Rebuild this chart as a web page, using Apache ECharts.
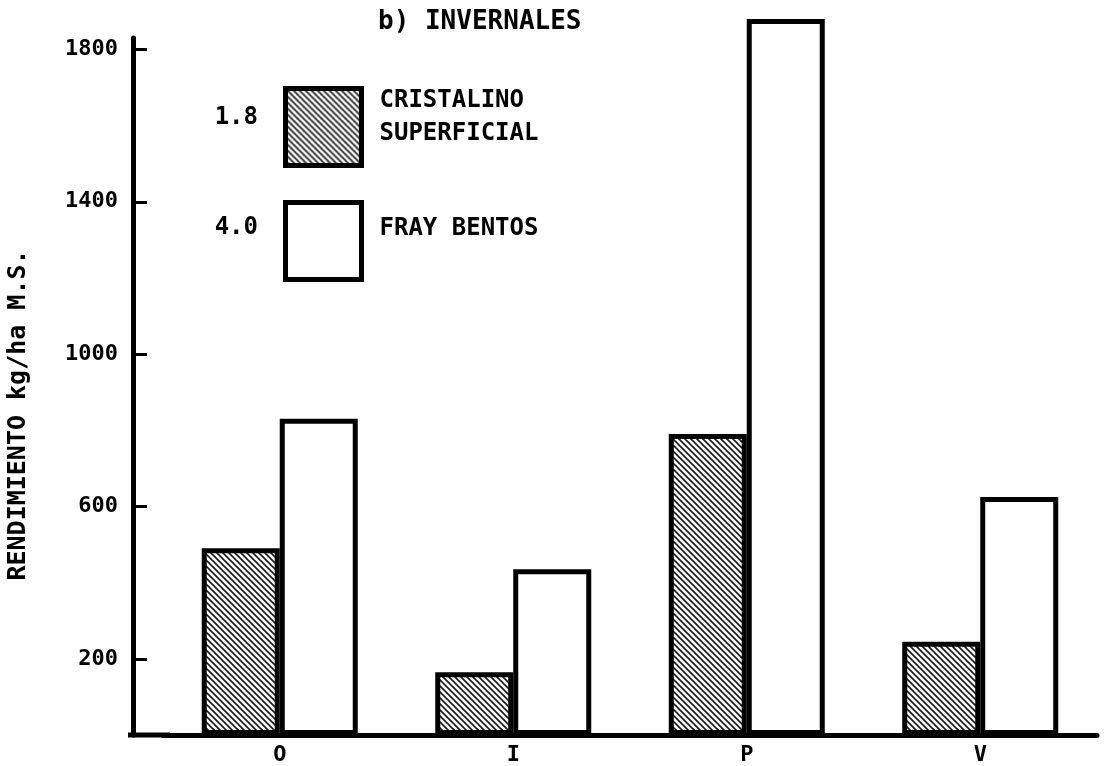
<!DOCTYPE html>
<html>
<head>
	<meta charset="utf-8">
	<title>b) INVERNALES</title>
	<style>
		html, body{margin:0; padding:0; background:#fff;}
		#chart{width:1104px; height:766px;}
	</style>
</head>
<body>
<div id="chart"></div>
<script src="https://cdn.jsdelivr.net/npm/echarts@6/dist/echarts.min.js"></script>
<script>
	// datos
	var categorias = ['O', 'I', 'P', 'V'];
	var cristalino = [490, 165, 790, 245];
	var frayBentos = [830, 435, 1880, 625];
	var ticksY = [200, 600, 1000, 1400, 1800];

	var fuente = '"DejaVu Sans Mono", monospace';

	// trama rayada para cristalino superficial
	function trama(){
		var c = document.createElement('canvas');
		c.width = 6; c.height = 6;
		var g = c.getContext('2d');
		g.fillStyle = '#fff';
		g.fillRect(0, 0, 6, 6);
		g.strokeStyle = '#1a1a1a';
		g.lineWidth = 1.6;
		g.beginPath();
		g.moveTo(-1, -1); g.lineTo(7, 7);
		g.moveTo(-4, 2); g.lineTo(4, 10);
		g.moveTo(2, -4); g.lineTo(10, 4);
		g.stroke();
		return c;
	}

	// texto de leyenda algo por encima del centro del cuadro
	function textoLeyenda(name){
		var lineas = name.split('\n').map(function(s){ return '{a|' + s + '}'; });
		return lineas.join('\n') + (lineas.length > 1 ? '\n{b| }' : '\n{c| }');
	}

	var estiloLeyenda = {
		fontFamily: fuente, fontWeight: 'bold', fontSize: 24, color: '#000',
		rich: {
			a: {fontFamily: fuente, fontWeight: 'bold', fontSize: 24, lineHeight: 33, color: '#000', padding: [0, 0, 0, 13]},
			b: {fontSize: 10, lineHeight: 20},
			c: {fontSize: 10, lineHeight: 24}
		}
	};

	function leyenda(nombre, top){
		return {
			orient: 'vertical',
			left: 283,
			top: top,
			padding: 0,
			itemWidth: 76,
			itemHeight: 77,
			selectedMode: false,
			icon: 'rect',
			itemStyle: {borderWidth: 5, borderColor: '#000'},
			formatter: textoLeyenda,
			textStyle: estiloLeyenda,
			data: [nombre]
		};
	}

	var myChart = echarts.init(document.getElementById('chart'));

	var option = {
		animation: false,
		backgroundColor: '#fff',
		title: {
			text: 'b) INVERNALES',
			left: 378,
			top: 9,
			padding: 0,
			textStyle: {fontFamily: fuente, fontWeight: 'bold', fontSize: 26, color: '#000'}
		},
		legend: [
			leyenda('CRISTALINO\nSUPERFICIAL', 86),
			leyenda('FRAY BENTOS', 200)
		],
		grid: {left: 163, right: 7, top: 38, bottom: 28},
		xAxis: {
			type: 'category',
			data: categorias,
			axisLine: {lineStyle: {color: '#000', width: 5}},
			axisTick: {show: false},
			axisLabel: {margin: 9, fontFamily: fuente, fontWeight: 'bold', fontSize: 22, color: '#000'}
		},
		yAxis: {
			type: 'value',
			min: 0,
			max: 1830,
			offset: 30,
			splitLine: {show: false},
			axisLine: {show: true, lineStyle: {color: '#000', width: 5}},
			axisTick: {show: true, inside: true, length: 14, customValues: ticksY,
				lineStyle: {color: '#000', width: 3}},
			axisLabel: {margin: 15, customValues: ticksY, fontFamily: fuente,
				fontWeight: 'bold', fontSize: 22, color: '#000',
				formatter: function(v){ return String(v); }}
		},
		graphic: [
			{type: 'text', x: 258, y: 118, style: {text: '1.8', fill: '#000', align: 'right', verticalAlign: 'middle',
				font: 'bold 24px ' + fuente}},
			{type: 'text', x: 258, y: 228, style: {text: '4.0', fill: '#000', align: 'right', verticalAlign: 'middle',
				font: 'bold 24px ' + fuente}},
			{type: 'text', x: 18, y: 415, rotation: Math.PI / 2,
				style: {text: 'RENDIMIENTO kg/ha M.S.', fill: '#000', align: 'center', verticalAlign: 'middle',
				font: 'bold 25px ' + fuente}}
		],
		series: [
			{
				name: 'CRISTALINO\nSUPERFICIAL',
				type: 'bar',
				data: cristalino,
				barWidth: 78,
				barGap: '0%',
				clip: false,
				itemStyle: {color: {image: trama(), repeat: 'repeat'}, borderColor: '#000', borderWidth: 5}
			},
			{
				name: 'FRAY BENTOS',
				type: 'bar',
				data: frayBentos,
				barWidth: 78,
				barGap: '0%',
				clip: false,
				itemStyle: {color: '#fff', borderColor: '#000', borderWidth: 5}
			}
		]
	};

	myChart.setOption(option);

	// eje x prolongado hacia la izquierda, como en el original
	var y0 = myChart.convertToPixel({yAxisIndex: 0}, 0);
	myChart.setOption({
		graphic: [{type: 'line', id: 'ejeX', shape: {x1: 128, y1: y0, x2: 170, y2: y0},
			style: {stroke: '#000', lineWidth: 5}, z: 10}]
	});
</script>
</body>
</html>
